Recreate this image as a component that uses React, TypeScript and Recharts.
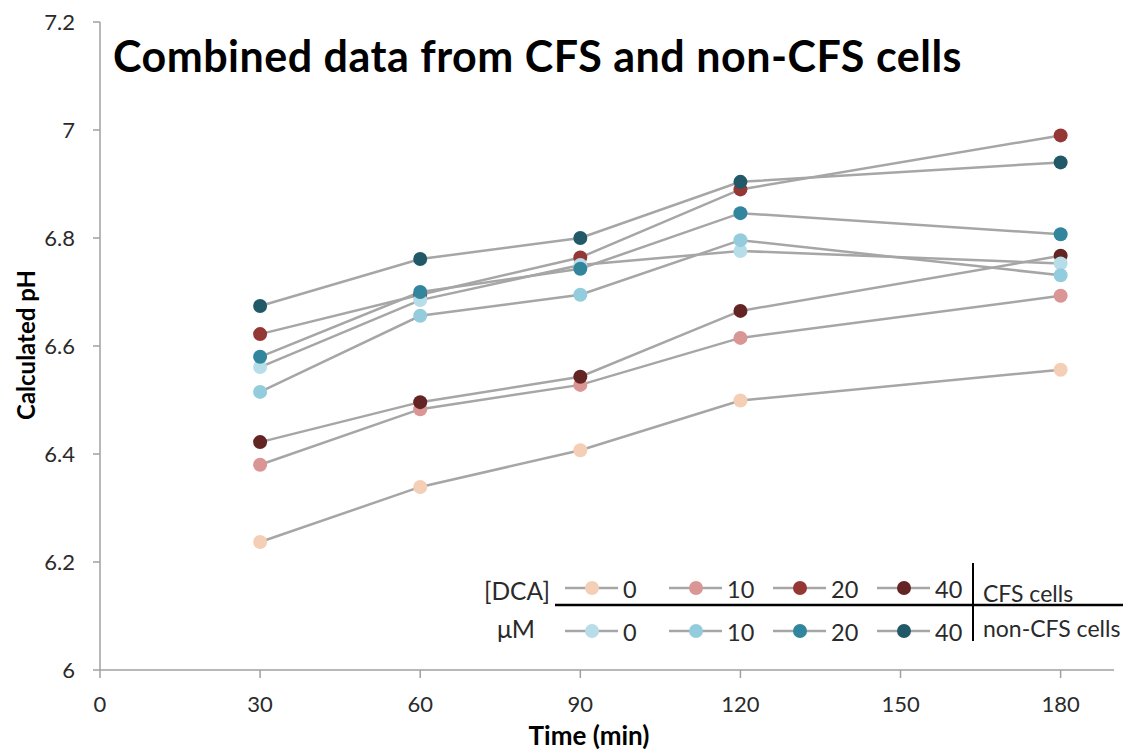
import React from "react";
import { LineChart, Line, XAxis, YAxis } from "recharts";

const times = [30, 60, 90, 120, 180];
const xTicks = [0, 30, 60, 90, 120, 150, 180];
const yTicks = [6, 6.2, 6.4, 6.6, 6.8, 7, 7.2];
const doses = ["0", "10", "20", "40"];

const cfs0 = [6.237, 6.339, 6.407, 6.499, 6.556];
const cfs10 = [6.38, 6.483, 6.528, 6.615, 6.693];
const cfs20 = [6.622, 6.695, 6.764, 6.89, 6.99];
const cfs40 = [6.422, 6.496, 6.543, 6.665, 6.767];
const non0 = [6.561, 6.685, 6.75, 6.776, 6.753];
const non10 = [6.515, 6.656, 6.695, 6.796, 6.731];
const non20 = [6.58, 6.7, 6.743, 6.846, 6.807];
const non40 = [6.674, 6.761, 6.8, 6.904, 6.94];

const cfsColors = ["#f4cfb5", "#d99694", "#953735", "#632523"];
const nonColors = ["#b7dee8", "#93cddd", "#31859c", "#215968"];

const series = [
  { key: "cfs0", values: cfs0, color: cfsColors[0] },
  { key: "cfs10", values: cfs10, color: cfsColors[1] },
  { key: "cfs20", values: cfs20, color: cfsColors[2] },
  { key: "cfs40", values: cfs40, color: cfsColors[3] },
  { key: "non0", values: non0, color: nonColors[0] },
  { key: "non10", values: non10, color: nonColors[1] },
  { key: "non20", values: non20, color: nonColors[2] },
  { key: "non40", values: non40, color: nonColors[3] },
];

const data = times.map((t, i) => {
  const row: any = { t };
  series.forEach((s) => (row[s.key] = s.values[i]));
  return row;
});

const W = 1136;
const H = 751;
const FONT = "Lato, 'Open Sans', sans-serif";
const LINE_GREY = "#a6a6a6";
const AXIS_GREY = "#a0a0a0";
const TXT = "#2a2a2a";

function LegendOverlay() {
  const rowY = [588, 631];
  const fs = 23.5;
  return (
    <svg width={W} height={H} style={{ position: "absolute", left: 0, top: 0, pointerEvents: "none" }}>
      <text x={517} y={rowY[0] + 2} textAnchor="middle" dominantBaseline="central" fontFamily={FONT} fontSize={24.5} fill={TXT}>[DCA]</text>
      <text x={516} y={rowY[1] - 3} textAnchor="middle" dominantBaseline="central" fontFamily={FONT} fontSize={25} fill={TXT}>μM</text>
      <line x1={555} x2={1123} y1={605} y2={605} stroke="#000" strokeWidth={2.5} />
      <line x1={973} x2={973} y1={563} y2={641} stroke="#000" strokeWidth={2} />
      {[cfsColors, nonColors].map((cols, r) =>
        doses.map((d, i) => {
          const cx = 592 + 104 * i;
          return (
            <g key={`${r}-${i}`}>
              <line x1={cx - 27} x2={cx + 26} y1={rowY[r]} y2={rowY[r]} stroke={LINE_GREY} strokeWidth={2.5} />
              <circle cx={cx} cy={rowY[r]} r={7} fill={cols[i]} />
              <text x={cx + 31} y={rowY[r] + 1} dominantBaseline="central" fontFamily={FONT} fontSize={fs} fill={TXT}>{d}</text>
            </g>
          );
        })
      )}
      <text x={983} y={593} dominantBaseline="central" fontFamily={FONT} fontSize={23} fill={TXT}>CFS cells</text>
      <text x={983} y={628} dominantBaseline="central" fontFamily={FONT} fontSize={23} fill={TXT}>non-CFS cells</text>
    </svg>
  );
}

export default function App() {
  return (
    <div style={{ position: "absolute", left: 0, top: 0, width: W, height: H, background: "#fff" }}>
      <LineChart width={W} height={H} data={data} margin={{ top: 22, right: 22, left: 40, bottom: 31 }}>
        <XAxis
          dataKey="t"
          type="number"
          domain={[0, 190]}
          ticks={xTicks}
          interval={0}
          stroke={AXIS_GREY}
          strokeWidth={1.5}
          tickSize={8}
          tickMargin={18}
          height={50}
          tick={{ fill: TXT, fontSize: 22, fontFamily: FONT }}
        />
        <YAxis
          type="number"
          domain={[6, 7.2]}
          ticks={yTicks}
          interval={0}
          width={60}
          stroke={AXIS_GREY}
          strokeWidth={1.5}
          tickSize={7}
          tickMargin={18}
          tick={{ fill: TXT, fontSize: 22, fontFamily: FONT }}
        />
        {series.map((s) => (
          <Line
            key={s.key}
            dataKey={s.key}
            stroke={LINE_GREY}
            strokeWidth={2.5}
            isAnimationActive={false}
            dot={{ r: 7, fill: s.color, stroke: "none", strokeWidth: 0 }}
            activeDot={false}
          />
        ))}
        <text x={113} y={72} fontFamily={FONT} fontSize={43} fontWeight={700} letterSpacing={0.5} fill="#000">
          Combined data from CFS and non-CFS cells
        </text>
        <text x={589} y={735} textAnchor="middle" dominantBaseline="central" fontFamily={FONT} fontSize={26} fontWeight={700} fill="#000">
          Time (min)
        </text>
        <text x={25} y={345} textAnchor="middle" dominantBaseline="central" transform="rotate(-90, 25, 345)" fontFamily={FONT} fontSize={24} fontWeight={700} fill="#000">
          Calculated pH
        </text>
      </LineChart>
      <LegendOverlay />
    </div>
  );
}
